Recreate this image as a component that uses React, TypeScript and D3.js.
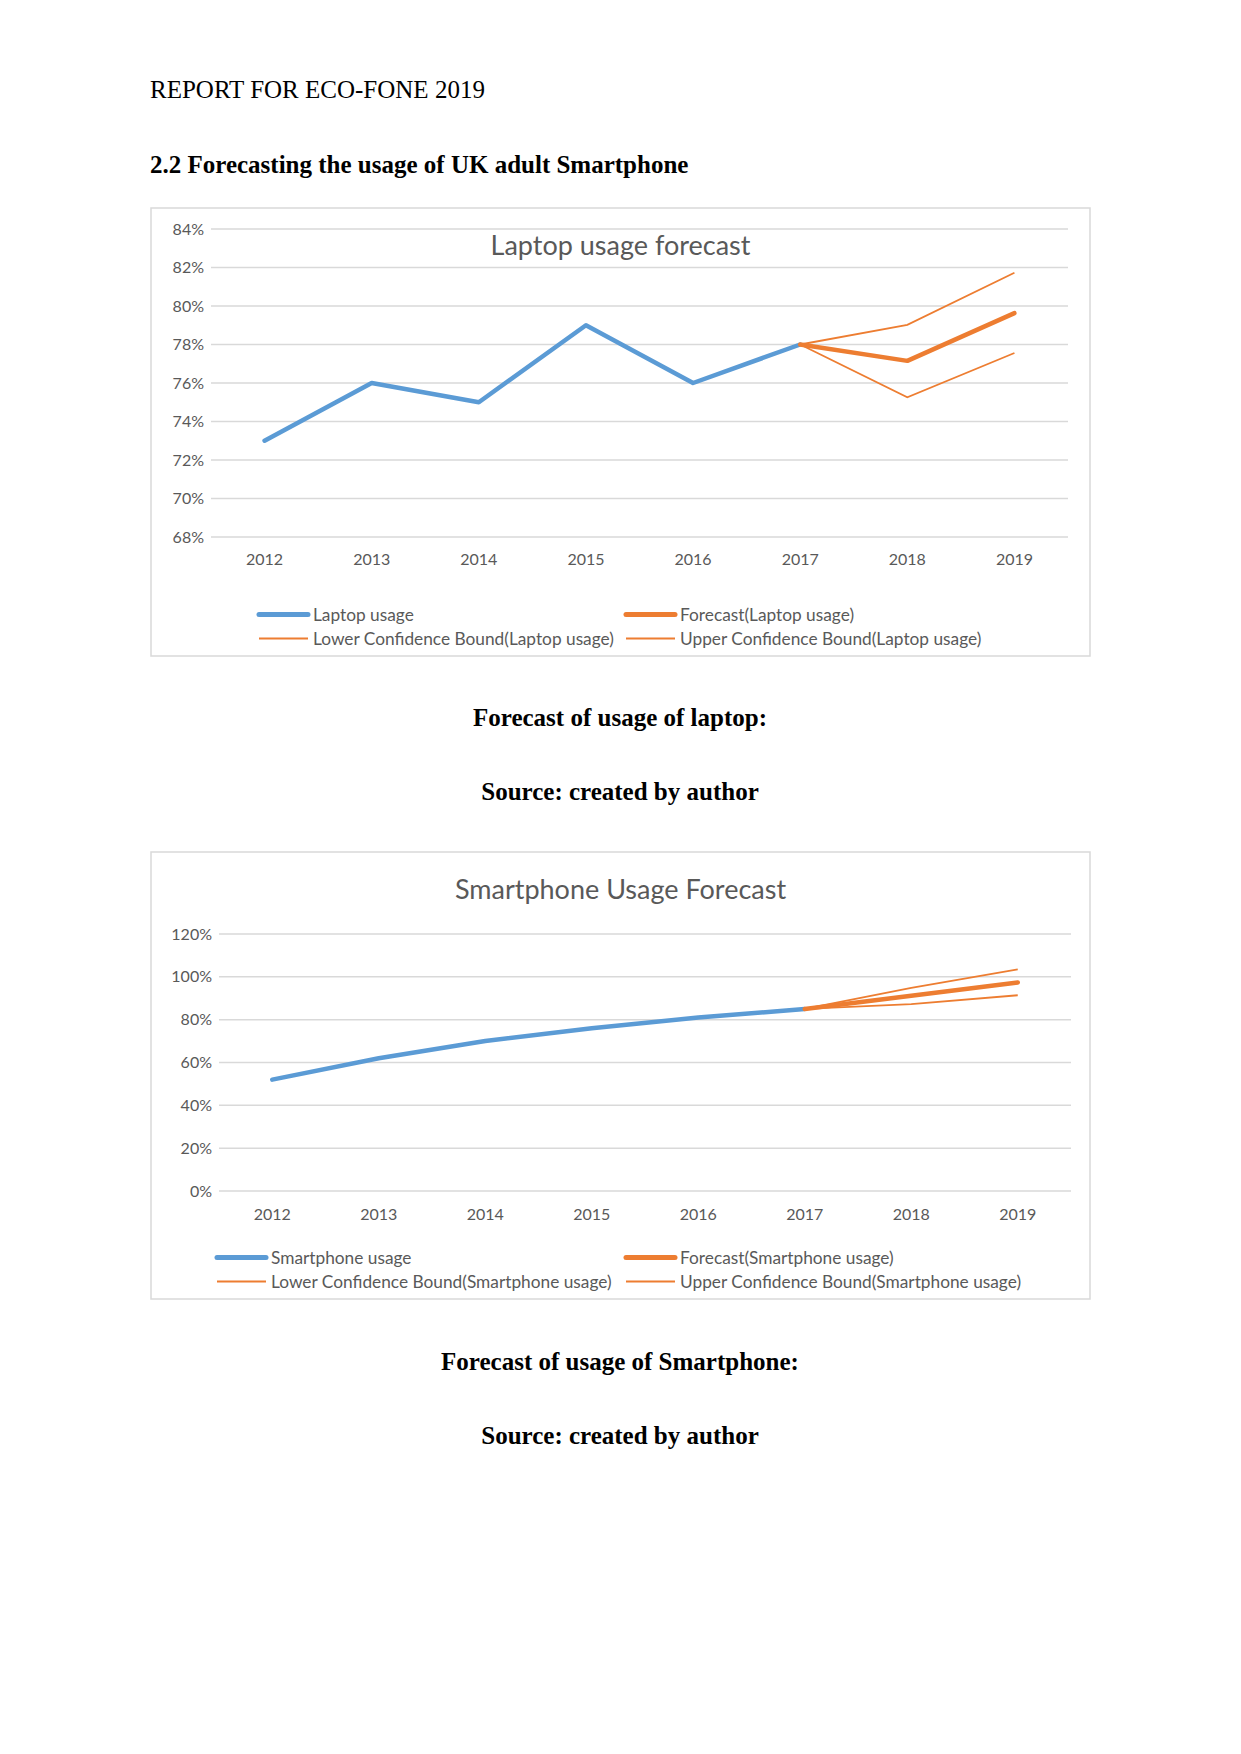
import React from "react";
import * as d3 from "d3";

const years = ["2012", "2013", "2014", "2015", "2016", "2017", "2018", "2019"];

const laptopUsage = [0.73, 0.76, 0.75, 0.79, 0.76, 0.78, null, null];
const laptopForecast = [null, null, null, null, null, 0.78, 0.7715, 0.7963];
const laptopLower = [null, null, null, null, null, 0.78, 0.7526, 0.7756];
const laptopUpper = [null, null, null, null, null, 0.78, 0.7902, 0.8173];
const laptopTicks = [0.68, 0.7, 0.72, 0.74, 0.76, 0.78, 0.8, 0.82, 0.84];

const phoneUsage = [0.52, 0.62, 0.7, 0.76, 0.81, 0.85, null, null];
const phoneForecast = [null, null, null, null, null, 0.85, 0.912, 0.974];
const phoneLower = [null, null, null, null, null, 0.85, 0.873, 0.914];
const phoneUpper = [null, null, null, null, null, 0.85, 0.948, 1.035];
const phoneTicks = [0, 0.2, 0.4, 0.6, 0.8, 1.0, 1.2];

const BLUE = "#5B9BD5";
const ORANGE = "#ED7D31";
const GRID = "#D9D9D9";
const TXT = "#595959";
const CF = "Lato, 'Open Sans', sans-serif";

type ChartProps = {
  box: { x: number; y: number; w: number; h: number };
  plot: { x0: number; x1: number; y0: number; y1: number };
  titleY: number;
  title: string;
  ticks: number[];
  yearY: number;
  name: string;
  actual: (number | null)[];
  forecast: (number | null)[];
  lower: (number | null)[];
  upper: (number | null)[];
  legend: { row1: number; row2: number; c1Line: number; c2Line: number };
};

function Chart(p: ChartProps) {
  const x = d3.scaleBand<string>().domain(years).range([p.plot.x0, p.plot.x1]);
  const y = d3
    .scaleLinear()
    .domain([p.ticks[0], p.ticks[p.ticks.length - 1]])
    .range([p.plot.y1, p.plot.y0]);
  const line = d3
    .line<number | null>()
    .defined((d) => d !== null)
    .x((_, i) => (x(years[i]) as number) + x.bandwidth() / 2)
    .y((d) => y(d as number));
  const fmt = d3.format(".0%");
  const L = p.legend;
  const legendItems = [
    { lx: L.c1Line, ly: L.row1, color: BLUE, w: 5, label: `${p.name}` },
    { lx: L.c2Line, ly: L.row1, color: ORANGE, w: 5, label: `Forecast(${p.name})` },
    { lx: L.c1Line, ly: L.row2, color: ORANGE, w: 2, label: `Lower Confidence Bound(${p.name})` },
    { lx: L.c2Line, ly: L.row2, color: ORANGE, w: 2, label: `Upper Confidence Bound(${p.name})` },
  ];
  return (
    <g>
      <rect x={p.box.x} y={p.box.y} width={p.box.w} height={p.box.h} fill="#fff" stroke={GRID} strokeWidth={1.5} />
      {p.ticks.map((t) => (
        <g key={t}>
          <line x1={p.plot.x0} x2={p.plot.x1} y1={y(t)} y2={y(t)} stroke={GRID} strokeWidth={1.5} />
          <text x={p.plot.x0 - 7} y={y(t)} dy="0.35em" textAnchor="end" fontFamily={CF} fontSize={16} fill={TXT}>
            {fmt(t)}
          </text>
        </g>
      ))}
      {years.map((yr) => (
        <text key={yr} x={(x(yr) as number) + x.bandwidth() / 2} y={p.yearY} dy="0.35em" textAnchor="middle" fontFamily={CF} fontSize={16} fill={TXT}>
          {yr}
        </text>
      ))}
      <text x={(p.box.x + p.box.x + p.box.w) / 2} y={p.titleY} dy="0.35em" textAnchor="middle" fontFamily={CF} fontSize={27} fill={TXT}>
        {p.title}
      </text>
      <path d={line(p.actual) || ""} fill="none" stroke={BLUE} strokeWidth={4.5} strokeLinejoin="round" strokeLinecap="round" />
      <path d={line(p.lower) || ""} fill="none" stroke={ORANGE} strokeWidth={1.8} />
      <path d={line(p.upper) || ""} fill="none" stroke={ORANGE} strokeWidth={1.8} />
      <path d={line(p.forecast) || ""} fill="none" stroke={ORANGE} strokeWidth={4.5} strokeLinejoin="round" strokeLinecap="round" />
      {legendItems.map((it, i) => (
        <g key={i}>
          <line x1={it.lx} x2={it.lx + 49} y1={it.ly} y2={it.ly} stroke={it.color} strokeWidth={it.w} strokeLinecap={it.w > 3 ? "round" : "butt"} />
          <text x={it.lx + 54} y={it.ly} dy="0.35em" fontFamily={CF} fontSize={17.3} fill={TXT}>
            {it.label}
          </text>
        </g>
      ))}
    </g>
  );
}

export default function App() {
  const serif = "'Liberation Serif', 'Times New Roman', serif";
  return (
    <svg width={1241} height={1754} style={{ position: "absolute", left: 0, top: 0, background: "#fff" }}>
      <rect x={0} y={0} width={1241} height={1754} fill="#fff" />
      <text x={150} y={98} fontFamily={serif} fontSize={25} fill="#000">REPORT FOR ECO-FONE 2019</text>
      <text x={150} y={173} fontFamily={serif} fontSize={25} fontWeight="bold" fill="#000">
        2.2 Forecasting the usage of UK adult Smartphone
      </text>
      <Chart
        box={{ x: 151, y: 208, w: 939, h: 448 }}
        plot={{ x0: 211, x1: 1068, y0: 229, y1: 537 }}
        titleY={246}
        title="Laptop usage forecast"
        ticks={laptopTicks}
        yearY={559}
        name="Laptop usage"
        actual={laptopUsage}
        forecast={laptopForecast}
        lower={laptopLower}
        upper={laptopUpper}
        legend={{ row1: 614.5, row2: 638.5, c1Line: 259, c2Line: 626 }}
      />
      <text x={620} y={726} textAnchor="middle" fontFamily={serif} fontSize={25} fontWeight="bold">Forecast of usage of laptop:</text>
      <text x={620} y={800} textAnchor="middle" fontFamily={serif} fontSize={25} fontWeight="bold">Source: created by author</text>
      <Chart
        box={{ x: 151, y: 852, w: 939, h: 447 }}
        plot={{ x0: 219, x1: 1071, y0: 934, y1: 1191 }}
        titleY={890}
        title="Smartphone Usage Forecast"
        ticks={phoneTicks}
        yearY={1214}
        name="Smartphone usage"
        actual={phoneUsage}
        forecast={phoneForecast}
        lower={phoneLower}
        upper={phoneUpper}
        legend={{ row1: 1257.5, row2: 1281.5, c1Line: 217, c2Line: 626 }}
      />
      <text x={620} y={1370} textAnchor="middle" fontFamily={serif} fontSize={25} fontWeight="bold">Forecast of usage of Smartphone:</text>
      <text x={620} y={1444} textAnchor="middle" fontFamily={serif} fontSize={25} fontWeight="bold">Source: created by author</text>
    </svg>
  );
}
